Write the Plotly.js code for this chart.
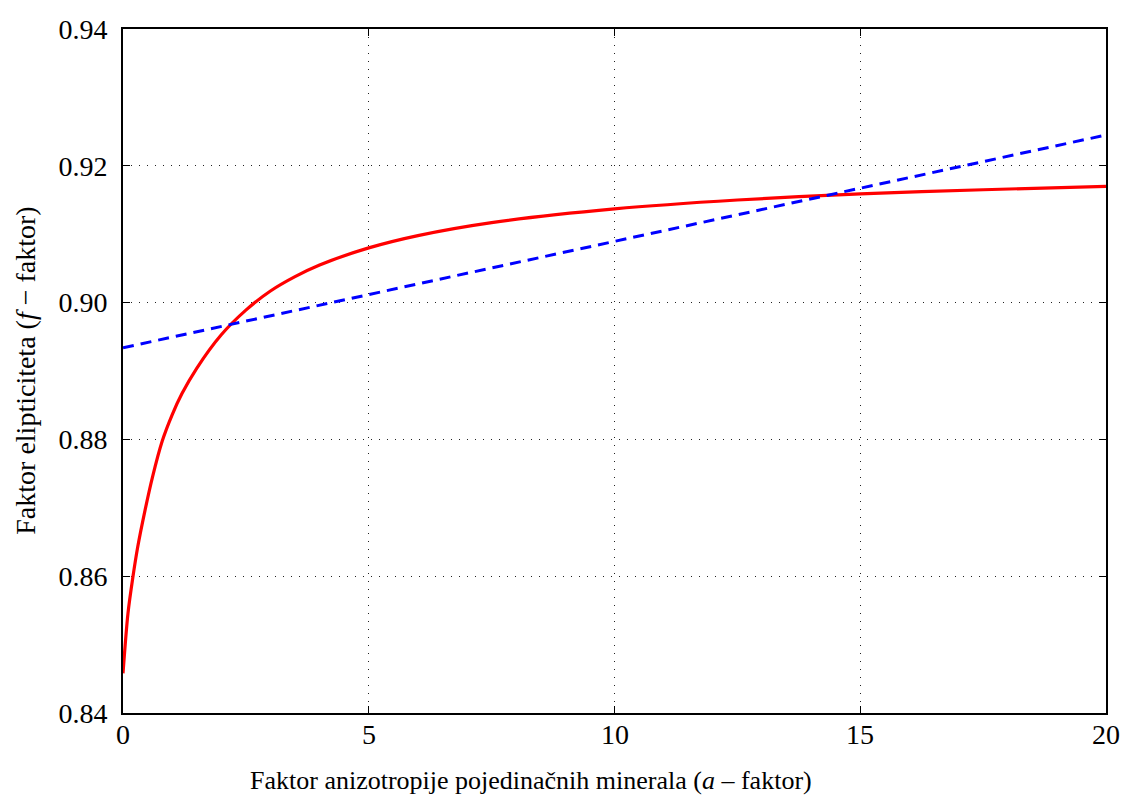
<!DOCTYPE html>
<html>
<head>
<meta charset="utf-8">
<script src="https://cdn.plot.ly/plotly-3.0.1.min.js"></script>
<style>html,body{margin:0;padding:0;background:#fff;}#chart{width:1124px;height:800px;}</style>
</head>
<body>
<div id="chart"></div>
<script>
// Red curve (f-factor vs a-factor)
const redX = [0, 0.1, 0.2, 0.3, 0.45, 0.6, 0.8, 1.0, 1.2, 1.5, 2.0, 2.5, 3.0, 3.5, 4.0, 5.0, 6.0, 7.5, 10, 12.5, 15, 17.5, 20];
const redY = [0.8458, 0.8545, 0.8598, 0.8643, 0.8697, 0.8745, 0.8798, 0.8836, 0.8867, 0.8904, 0.8953, 0.8989, 0.9017, 0.9038, 0.9055, 0.9080, 0.9098, 0.9117, 0.9137, 0.9150, 0.9159, 0.9165, 0.9170];
// Blue dashed straight line
const blueX = [0, 20];
const blueY = [0.8934, 0.9245];
// Ticks
const xTicks = [0, 5, 10, 15, 20];
const yTicks = [0.84, 0.86, 0.88, 0.90, 0.92, 0.94];

const serif = "'Liberation Serif', 'Times New Roman', Times, serif";

const traces = [
  {x: redX, y: redY, type: 'scatter', mode: 'lines',
   line: {color: '#ff0000', width: 3.2, shape: 'spline', smoothing: 0.8}, hoverinfo: 'skip'},
  {x: blueX, y: blueY, type: 'scatter', mode: 'lines',
   line: {color: '#0000ff', width: 3, dash: '11px,7px'}, hoverinfo: 'skip'}
];

const axisCommon = {
  showline: true, linecolor: '#000', linewidth: 2, mirror: 'ticks',
  ticks: 'inside', ticklen: 7, tickwidth: 1, tickcolor: '#000',
  showgrid: true, gridcolor: '#222', gridwidth: 1, griddash: '1px,7px',
  zeroline: false,
  tickfont: {family: serif, size: 28, color: '#000'}
};

// x tick labels placed through the x scale as annotations
const xTickLabels = xTicks.map(v => ({
  text: String(v), xref: 'x', yref: 'paper', x: v, y: 0,
  xanchor: 'center', yanchor: 'top', yshift: -4, showarrow: false,
  font: {family: serif, size: 28, color: '#000'}
}));

const layout = {
  width: 1124, height: 800,
  margin: {l: 123, r: 18, t: 29, b: 87},
  paper_bgcolor: '#fff', plot_bgcolor: '#fff',
  font: {family: serif, color: '#000'},
  showlegend: false,
  xaxis: Object.assign({}, axisCommon, {
    range: [0, 20], tickvals: xTicks, showticklabels: false
  }),
  yaxis: Object.assign({}, axisCommon, {
    range: [0.84, 0.94], tickvals: yTicks, ticktext: yTicks.map(v => v.toFixed(2)),
    ticklabelstandoff: 8
  }),
  annotations: xTickLabels.concat([
    {text: 'Faktor anizotropije pojedinačnih minerala (<i>a</i> – faktor)',
     xref: 'paper', yref: 'paper', x: 0.415, y: -0.099, xanchor: 'center', yanchor: 'middle',
     showarrow: false, font: {family: serif, size: 26, color: '#000'}},
    {text: 'Faktor elipticiteta (<i>f</i> − faktor)',
     xref: 'paper', yref: 'paper', x: -0.1, y: 0.5, xanchor: 'center', yanchor: 'middle',
     textangle: -90, showarrow: false, font: {family: serif, size: 28, color: '#000'}}
  ])
};

Plotly.newPlot('chart', traces, layout, {staticPlot: true, displayModeBar: false});
</script>
</body>
</html>
